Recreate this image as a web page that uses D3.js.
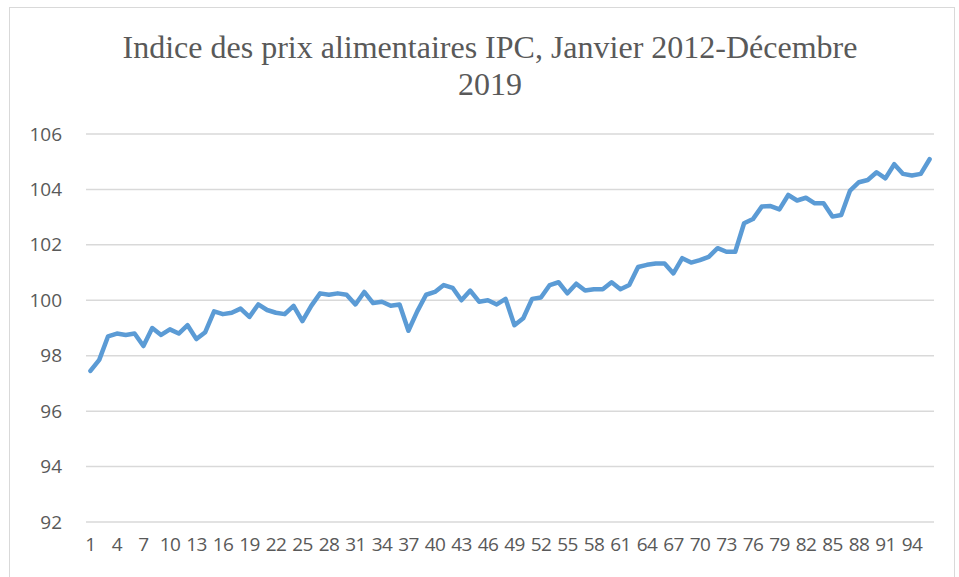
<!DOCTYPE html>
<html>
<head>
<meta charset="utf-8">
<script src="https://cdn.jsdelivr.net/npm/d3@7"></script>
<style>
  html, body { margin: 0; padding: 0; background: #fff; }
  svg { display: block; }
</style>
</head>
<body>
<svg id="chart" width="959" height="577"></svg>
<script>
const titleLines = ["Indice des prix alimentaires IPC, Janvier 2012-Décembre", "2019"];
const months = d3.range(1, 97);
const values = [
  97.45, 97.85, 98.7, 98.8, 98.75, 98.8, 98.35, 99.0, 98.75, 98.95,
  98.8, 99.1, 98.6, 98.85, 99.6, 99.5, 99.55, 99.7, 99.4, 99.85,
  99.65, 99.55, 99.5, 99.8, 99.25, 99.8, 100.25, 100.2, 100.25, 100.2,
  99.85, 100.3, 99.9, 99.95, 99.8, 99.85, 98.9, 99.6, 100.2, 100.3,
  100.55, 100.45, 100.0, 100.35, 99.95, 100.0, 99.85, 100.05, 99.1, 99.35,
  100.05, 100.1, 100.55, 100.65, 100.25, 100.6, 100.35, 100.4, 100.4, 100.65,
  100.4, 100.55, 101.2, 101.28, 101.33, 101.33, 100.97, 101.52, 101.36, 101.45,
  101.57, 101.88, 101.75, 101.75, 102.78, 102.93, 103.38, 103.4, 103.28, 103.8,
  103.6, 103.7, 103.5, 103.5, 103.02, 103.08, 103.96, 104.26, 104.34, 104.62,
  104.4, 104.91, 104.56, 104.5, 104.56, 105.09
];
const yTicks = [92, 94, 96, 98, 100, 102, 104, 106];
const xTickLabels = d3.range(1, 97, 3);

const svg = d3.select("#chart");
const plotLeft = 86, plotRight = 934, plotTop = 134, plotBottom = 522;

svg.append("rect")
  .attr("x", 9.5).attr("y", 7.5)
  .attr("width", 945).attr("height", 590)
  .attr("fill", "#fff").attr("stroke", "#d9d9d9").attr("stroke-width", 1);

const x = d3.scaleBand().domain(months).range([plotLeft, plotRight]);
const y = d3.scaleLinear().domain([92, 106]).range([plotBottom, plotTop]);

// gridlines
svg.append("g").selectAll("line").data(yTicks).join("line")
  .attr("x1", plotLeft).attr("x2", plotRight)
  .attr("y1", d => y(d)).attr("y2", d => y(d))
  .attr("stroke", "#d9d9d9").attr("stroke-width", 1.5);

// y axis labels
const yAxis = d3.axisLeft(y).tickValues(yTicks).tickSize(0).tickPadding(0).tickFormat(d3.format("d"));
const gy = svg.append("g").attr("transform", `translate(${plotLeft - 24},0)`).call(yAxis);
gy.select(".domain").remove();
gy.selectAll("text")
  .attr("font-family", "'Open Sans', 'Liberation Sans', sans-serif")
  .attr("font-size", 19).attr("fill", "#595959");

// x axis labels
const xAxis = d3.axisBottom(x).tickValues(xTickLabels).tickSize(0).tickPadding(0);
const gx = svg.append("g").attr("transform", `translate(0,${plotBottom + 15})`).call(xAxis);
gx.select(".domain").remove();
gx.selectAll("text")
  .attr("font-family", "'Open Sans', 'Liberation Sans', sans-serif")
  .attr("font-size", 19).attr("fill", "#595959").attr("letter-spacing", -0.6);

// line
const line = d3.line()
  .x((d, i) => x(months[i]) + x.bandwidth() / 2)
  .y(d => y(d));
svg.append("path").datum(values)
  .attr("d", line)
  .attr("fill", "none")
  .attr("stroke", "#5b9bd5")
  .attr("stroke-width", 4.5)
  .attr("stroke-linejoin", "round")
  .attr("stroke-linecap", "round");

// title
svg.append("g").selectAll("text").data(titleLines).join("text")
  .attr("x", 490).attr("y", (d, i) => 58 + i * 37)
  .attr("text-anchor", "middle")
  .attr("font-family", "'Liberation Serif', 'Times New Roman', serif")
  .attr("font-size", 32).attr("fill", "#595959")
  .text(d => d);
</script>
</body>
</html>
